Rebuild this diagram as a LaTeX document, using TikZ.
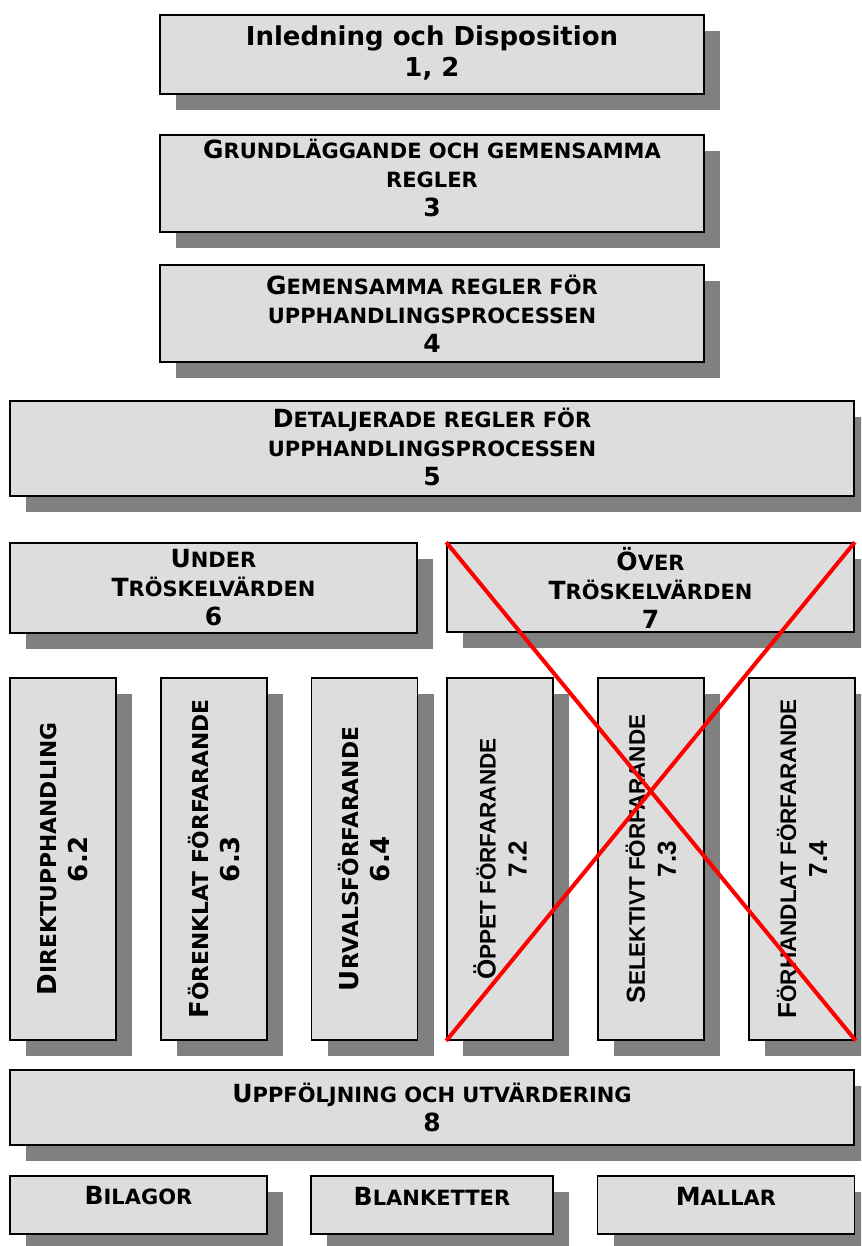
\documentclass[tikz,border=0pt]{standalone}
\usepackage{fontspec}
\setmainfont{DejaVu Sans}
\newfontfamily\arialfont{Liberation Sans}
\usepackage{tikz}
\usetikzlibrary{shadows}
\definecolor{boxgray}{HTML}{DDDDDD}
\definecolor{shadowgray}{HTML}{808080}
\newcommand\stor[1]{{\fontsize{25}{29}\selectfont #1}}
\newcommand\storV[1]{{\fontsize{26}{31}\selectfont #1}}
\tikzset{box/.style={
    draw=black, line width=1.6pt, fill=boxgray, inner sep=0pt,
    drop shadow={shadow xshift=16pt, shadow yshift=-16pt, fill=shadowgray, opacity=1}
  },
  vbox/.style={
    box, minimum width=106pt, minimum height=362pt
  },
  txt/.style={
    align=center, inner sep=0pt,
    font=\fontsize{21}{29}\selectfont\bfseries
  },
  vtxt/.style={
    txt, rotate=90, font=\fontsize{21.8}{31}\selectfont\bfseries
  },
  vtxtA/.style={
    txt, rotate=90, font=\fontsize{22.5}{31}\selectfont\arialfont\bfseries
  },
  kryss/.style={red, line width=4pt}
}

\begin{document}
\begin{tikzpicture}[x=1pt,y=-1pt]
  \useasboundingbox (0,0) rectangle (861,1246);
  \clip (0,0) rectangle (861,1246);
  % top blocks
  \node[box, minimum width=544pt, minimum height=79pt] (inl) at (432,54.5) {};
  \node[txt, font=\fontsize{26}{31}\selectfont\bfseries] (inl-t) at ([yshift=1.5pt]inl.center)
    {Inledning och Disposition\\1, 2};
  \node[box, minimum width=544pt, minimum height=97pt] (grund) at (432,183.5) {};
  \node[txt] (grund-t) at ([yshift=6pt]grund.center)
    {\stor{G}RUNDLÄGGANDE OCH GEMENSAMMA\\REGLER\\\stor{3}};
  \node[box, minimum width=544pt, minimum height=97pt] (gem) at (432,313.5) {};
  \node[txt] (gem-t) at (gem.center)
    {\stor{G}EMENSAMMA REGLER FÖR\\UPPHANDLINGSPROCESSEN\\\stor{4}};
  \node[box, minimum width=844pt, minimum height=95pt] (det) at (432,448.5) {};
  \node[txt] (det-t) at ([yshift=1.5pt]det.center)
    {\stor{D}ETALJERADE REGLER FÖR\\UPPHANDLINGSPROCESSEN\\\stor{5}};
  % thresholds
  \node[box, minimum width=407pt, minimum height=90pt] (und) at (213.5,588) {};
  \node[txt] (und-t) at (und.center) {\stor{U}NDER\\\stor{T}RÖSKELVÄRDEN\\\stor{6}};
  \node[box, minimum width=407pt, minimum height=89pt] (ovr) at (650.5,587.5) {};
  \node[txt] (ovr-t) at (ovr.center) {\stor{Ö}VER\\\stor{T}RÖSKELVÄRDEN\\\stor{7}};
  % procedures
  \node[vbox] (d62) at (63,859) {};
  \node[vtxt] at (d62.center) {\storV{D}IREKTUPPHANDLING\\\storV{6.2}};
  \node[vbox] (d63) at (214,859) {};
  \node[vtxt] at (d63.center) {\storV{F}ÖRENKLAT FÖRFARANDE\\\storV{6.3}};
  \node[vbox] (d64) at (364.5,859) {};
  \node[vtxt] at (d64.center) {\storV{U}RVALSFÖRFARANDE\\\storV{6.4}};
  \node[vbox] (d72) at (500,859) {};
  \node[vtxtA] at (d72.center) {\storV{Ö}PPET FÖRFARANDE\\\storV{7.2}};
  \node[vbox] (d73) at (651,859) {};
  \node[vtxtA] at (d73.center) {\storV{S}ELEKTIVT FÖRFARANDE\\\storV{7.3}};
  \node[vbox] (d74) at (802,859) {};
  \node[vtxtA] at (d74.center) {\storV{F}ÖRHANDLAT FÖRFARANDE\\\storV{7.4}};
  % follow-up and appendices
  \node[box, minimum width=844pt, minimum height=75pt] (upf) at (432,1107.5) {};
  \node[txt] (upf-t) at (upf.center) {\stor{U}PPFÖLJNING OCH UTVÄRDERING\\\stor{8}};
  \node[box, minimum width=257pt, minimum height=58pt] (bil) at (138.5,1205) {};
  \node[txt] at ([yshift=9pt]bil.center) {\stor{B}ILAGOR};
  \node[box, minimum width=242pt, minimum height=58pt] (bla) at (432,1205) {};
  \node[txt] at ([yshift=9pt]bla.center) {\stor{B}LANKETTER};
  \node[box, minimum width=257pt, minimum height=58pt] (mal) at (726,1205) {};
  \node[txt] at ([yshift=9pt]mal.center) {\stor{M}ALLAR};
  % struck out
  \draw[kryss] (ovr.north west) -- (d74.south east);
  \draw[kryss] (ovr.north east) -- (d72.south west);
\end{tikzpicture}
\end{document}
